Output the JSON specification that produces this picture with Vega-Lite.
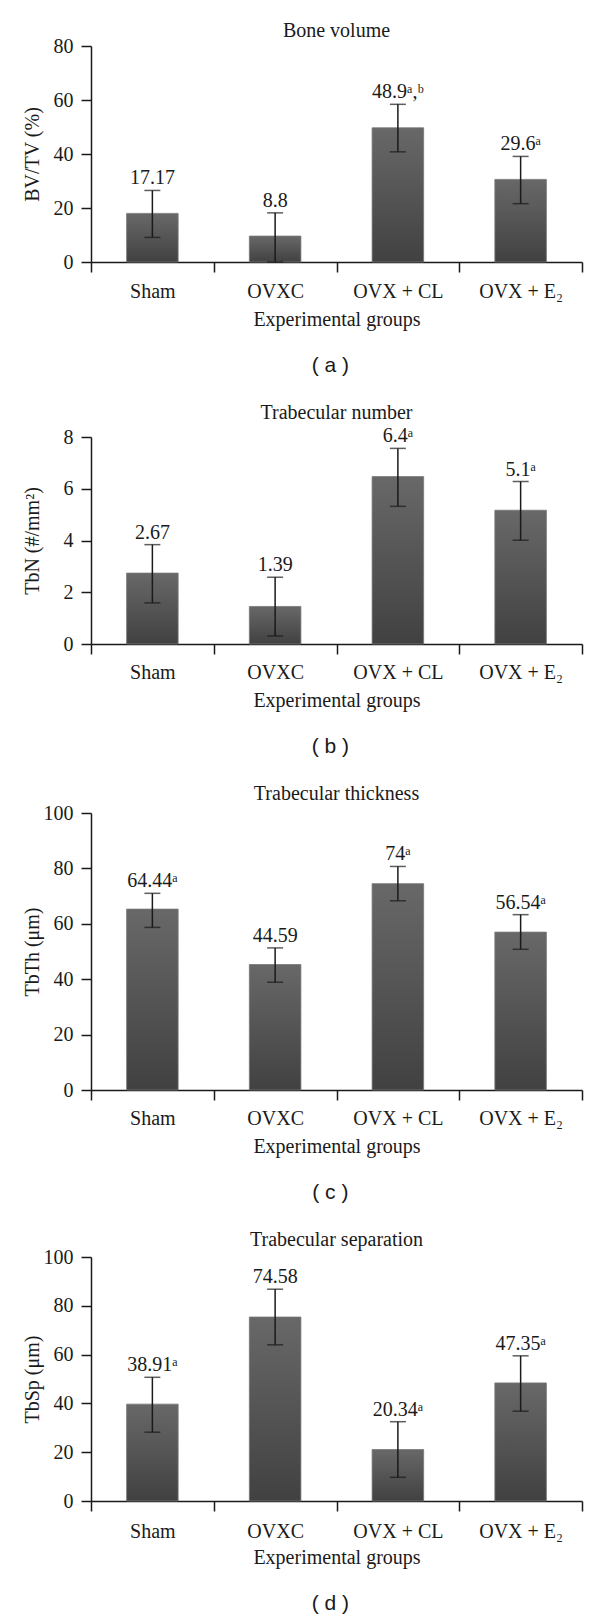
{
  "$schema": "https://vega.github.io/schema/vega-lite/v6.json",
  "background": "white",
  "padding": {"left": 22, "top": 21, "right": 10, "bottom": 5},
  "config": {
    "font": "Liberation Serif",
    "view": {"stroke": null},
    "axis": {
      "domainColor": "#1a1a1a", "domainWidth": 1.5,
      "tickColor": "#1a1a1a", "tickWidth": 1.5, "tickSize": 10,
      "labelFont": "Liberation Serif", "labelFontSize": 20, "labelColor": "#1a1a1a", "labelPadding": 8,
      "titleFont": "Liberation Serif", "titleFontSize": 20, "titleFontWeight": "normal", "titleColor": "#1a1a1a",
      "grid": false
    },
    "title": {"font": "Liberation Serif", "fontSize": 20, "fontWeight": "normal", "color": "#1a1a1a", "frame": "group"},
    "concat": {"spacing": 27}
  },
  "datasets": {
    "bv": [
      {"group": "Sham", "mean": 18.0, "lo": 9.1, "hi": 26.5, "label": "17.17"},
      {"group": "OVXC", "mean": 9.6, "lo": 0, "hi": 18.2, "label": "8.8"},
      {"group": "OVX + CL", "mean": 49.7, "lo": 40.8, "hi": 58.4, "label": "48.9ᵃ,ᵇ"},
      {"group": "OVX + E₂", "mean": 30.6, "lo": 21.6, "hi": 39.1, "label": "29.6ᵃ"}
    ],
    "tbn": [
      {"group": "Sham", "mean": 2.74, "lo": 1.59, "hi": 3.84, "label": "2.67"},
      {"group": "OVXC", "mean": 1.45, "lo": 0.31, "hi": 2.58, "label": "1.39"},
      {"group": "OVX + CL", "mean": 6.47, "lo": 5.32, "hi": 7.56, "label": "6.4ᵃ"},
      {"group": "OVX + E₂", "mean": 5.17, "lo": 4.01, "hi": 6.28, "label": "5.1ᵃ"}
    ],
    "tbth": [
      {"group": "Sham", "mean": 65.3, "lo": 58.7, "hi": 71.0, "label": "64.44ᵃ"},
      {"group": "OVXC", "mean": 45.3, "lo": 38.9, "hi": 51.3, "label": "44.59"},
      {"group": "OVX + CL", "mean": 74.5, "lo": 68.3, "hi": 80.7, "label": "74ᵃ"},
      {"group": "OVX + E₂", "mean": 57.0, "lo": 50.8, "hi": 63.3, "label": "56.54ᵃ"}
    ],
    "tbsp": [
      {"group": "Sham", "mean": 39.7, "lo": 28.2, "hi": 50.7, "label": "38.91ᵃ"},
      {"group": "OVXC", "mean": 75.4, "lo": 64.0, "hi": 86.8, "label": "74.58"},
      {"group": "OVX + CL", "mean": 21.1, "lo": 9.7, "hi": 32.5, "label": "20.34ᵃ"},
      {"group": "OVX + E₂", "mean": 48.4, "lo": 36.8, "hi": 59.5, "label": "47.35ᵃ"}
    ]
  },
  "vconcat": [
    {
      "title": {"text": "( a )", "orient": "bottom", "font": "Liberation Sans", "fontSize": 21, "offset": 26, "anchor": "middle", "frame": "bounds", "dx": 28},
      "vconcat": [{
        "width": 491, "height": 216,
        "title": {"text": "Bone volume", "offset": -5},
        "data": {"name": "bv"},
        "encoding": {
          "x": {"field": "group", "type": "nominal", "sort": null, "title": "Experimental groups",
                "scale": {"paddingInner": 0, "paddingOuter": 0},
                "axis": {"labelAngle": 0, "tickBand": "extent", "labelPadding": 9, "titlePadding": 8, "labelFont": "Liberation Serif", "titleFont": "Liberation Serif"}}
        },
        "layer": [
          {"mark": {"type": "bar", "width": {"band": 0.42}, "stroke": "#777777", "strokeWidth": 0.8,
                    "fill": {"gradient": "linear", "x1": 0, "y1": 0, "x2": 0, "y2": 1, "stops": [{"offset": 0, "color": "#686868"}, {"offset": 1, "color": "#414141"}]}},
           "encoding": {"y": {"field": "mean", "type": "quantitative", "title": "BV/TV (%)", "scale": {"domain": [0, 80]},
                              "axis": {"values": [0, 20, 40, 60, 80], "titlePadding": 11, "labelFont": "Liberation Serif", "titleFont": "Liberation Serif"}}}},
          {"mark": {"type": "rule", "strokeWidth": 1.5, "color": "#1a1a1a"},
           "encoding": {"y": {"field": "lo", "type": "quantitative", "title": "BV/TV (%)"}, "y2": {"field": "hi"}}},
          {"mark": {"type": "tick", "thickness": 1.5, "size": 16, "color": "#1a1a1a"},
           "encoding": {"y": {"field": "hi", "type": "quantitative", "title": "BV/TV (%)"}}},
          {"mark": {"type": "tick", "thickness": 1.5, "size": 16, "color": "#1a1a1a"},
           "encoding": {"y": {"field": "lo", "type": "quantitative", "title": "BV/TV (%)"}}},
          {"mark": {"type": "text", "baseline": "alphabetic", "dy": -6, "fontSize": 20, "font": "Liberation Serif", "color": "#1a1a1a"},
           "encoding": {"y": {"field": "hi", "type": "quantitative", "title": "BV/TV (%)"}, "text": {"field": "label"}}}
        ]
      }]
    },
    {
      "title": {"text": "( b )", "orient": "bottom", "font": "Liberation Sans", "fontSize": 21, "offset": 26, "anchor": "middle", "frame": "bounds", "dx": 28},
      "vconcat": [{
        "width": 491, "height": 207,
        "title": {"text": "Trabecular number", "offset": 3},
        "data": {"name": "tbn"},
        "encoding": {
          "x": {"field": "group", "type": "nominal", "sort": null, "title": "Experimental groups",
                "scale": {"paddingInner": 0, "paddingOuter": 0},
                "axis": {"labelAngle": 0, "tickBand": "extent", "labelPadding": 8, "titlePadding": 8, "labelFont": "Liberation Serif", "titleFont": "Liberation Serif"}}
        },
        "layer": [
          {"mark": {"type": "bar", "width": {"band": 0.42}, "stroke": "#777777", "strokeWidth": 0.8,
                    "fill": {"gradient": "linear", "x1": 0, "y1": 0, "x2": 0, "y2": 1, "stops": [{"offset": 0, "color": "#686868"}, {"offset": 1, "color": "#414141"}]}},
           "encoding": {"y": {"field": "mean", "type": "quantitative", "title": "TbN (#/mm²)", "scale": {"domain": [0, 8]},
                              "axis": {"values": [0, 2, 4, 6, 8], "titlePadding": 21, "labelFont": "Liberation Serif", "titleFont": "Liberation Serif"}}}},
          {"mark": {"type": "rule", "strokeWidth": 1.5, "color": "#1a1a1a"},
           "encoding": {"y": {"field": "lo", "type": "quantitative", "title": "TbN (#/mm²)"}, "y2": {"field": "hi"}}},
          {"mark": {"type": "tick", "thickness": 1.5, "size": 16, "color": "#1a1a1a"},
           "encoding": {"y": {"field": "hi", "type": "quantitative", "title": "TbN (#/mm²)"}}},
          {"mark": {"type": "tick", "thickness": 1.5, "size": 16, "color": "#1a1a1a"},
           "encoding": {"y": {"field": "lo", "type": "quantitative", "title": "TbN (#/mm²)"}}},
          {"mark": {"type": "text", "baseline": "alphabetic", "dy": -6, "fontSize": 20, "font": "Liberation Serif", "color": "#1a1a1a"},
           "encoding": {"y": {"field": "hi", "type": "quantitative", "title": "TbN (#/mm²)"}, "text": {"field": "label"}}}
        ]
      }]
    },
    {
      "title": {"text": "( c )", "orient": "bottom", "font": "Liberation Sans", "fontSize": 21, "offset": 26, "anchor": "middle", "frame": "bounds", "dx": 28},
      "vconcat": [{
        "width": 491, "height": 277,
        "title": {"text": "Trabecular thickness", "offset": -1},
        "data": {"name": "tbth"},
        "encoding": {
          "x": {"field": "group", "type": "nominal", "sort": null, "title": "Experimental groups",
                "scale": {"paddingInner": 0, "paddingOuter": 0},
                "axis": {"labelAngle": 0, "tickBand": "extent", "labelPadding": 8, "titlePadding": 8, "labelFont": "Liberation Serif", "titleFont": "Liberation Serif"}}
        },
        "layer": [
          {"mark": {"type": "bar", "width": {"band": 0.42}, "stroke": "#777777", "strokeWidth": 0.8,
                    "fill": {"gradient": "linear", "x1": 0, "y1": 0, "x2": 0, "y2": 1, "stops": [{"offset": 0, "color": "#686868"}, {"offset": 1, "color": "#414141"}]}},
           "encoding": {"y": {"field": "mean", "type": "quantitative", "title": "TbTh (μm)", "scale": {"domain": [0, 100]},
                              "axis": {"values": [0, 20, 40, 60, 80, 100], "titlePadding": 1, "labelFont": "Liberation Serif", "titleFont": "Liberation Serif"}}}},
          {"mark": {"type": "rule", "strokeWidth": 1.5, "color": "#1a1a1a"},
           "encoding": {"y": {"field": "lo", "type": "quantitative", "title": "TbTh (μm)"}, "y2": {"field": "hi"}}},
          {"mark": {"type": "tick", "thickness": 1.5, "size": 16, "color": "#1a1a1a"},
           "encoding": {"y": {"field": "hi", "type": "quantitative", "title": "TbTh (μm)"}}},
          {"mark": {"type": "tick", "thickness": 1.5, "size": 16, "color": "#1a1a1a"},
           "encoding": {"y": {"field": "lo", "type": "quantitative", "title": "TbTh (μm)"}}},
          {"mark": {"type": "text", "baseline": "alphabetic", "dy": -6, "fontSize": 20, "font": "Liberation Serif", "color": "#1a1a1a"},
           "encoding": {"y": {"field": "hi", "type": "quantitative", "title": "TbTh (μm)"}, "text": {"field": "label"}}}
        ]
      }]
    },
    {
      "title": {"text": "( d )", "orient": "bottom", "font": "Liberation Sans", "fontSize": 21, "offset": 26, "anchor": "middle", "frame": "bounds", "dx": 28},
      "vconcat": [{
        "width": 491, "height": 244,
        "title": {"text": "Trabecular separation", "offset": -3},
        "data": {"name": "tbsp"},
        "encoding": {
          "x": {"field": "group", "type": "nominal", "sort": null, "title": "Experimental groups",
                "scale": {"paddingInner": 0, "paddingOuter": 0},
                "axis": {"labelAngle": 0, "tickBand": "extent", "labelPadding": 10, "titlePadding": 6, "labelFont": "Liberation Serif", "titleFont": "Liberation Serif"}}
        },
        "layer": [
          {"mark": {"type": "bar", "width": {"band": 0.42}, "stroke": "#777777", "strokeWidth": 0.8,
                    "fill": {"gradient": "linear", "x1": 0, "y1": 0, "x2": 0, "y2": 1, "stops": [{"offset": 0, "color": "#686868"}, {"offset": 1, "color": "#414141"}]}},
           "encoding": {"y": {"field": "mean", "type": "quantitative", "title": "TbSp (μm)", "scale": {"domain": [0, 100]},
                              "axis": {"values": [0, 20, 40, 60, 80, 100], "titlePadding": 1, "labelFont": "Liberation Serif", "titleFont": "Liberation Serif"}}}},
          {"mark": {"type": "rule", "strokeWidth": 1.5, "color": "#1a1a1a"},
           "encoding": {"y": {"field": "lo", "type": "quantitative", "title": "TbSp (μm)"}, "y2": {"field": "hi"}}},
          {"mark": {"type": "tick", "thickness": 1.5, "size": 16, "color": "#1a1a1a"},
           "encoding": {"y": {"field": "hi", "type": "quantitative", "title": "TbSp (μm)"}}},
          {"mark": {"type": "tick", "thickness": 1.5, "size": 16, "color": "#1a1a1a"},
           "encoding": {"y": {"field": "lo", "type": "quantitative", "title": "TbSp (μm)"}}},
          {"mark": {"type": "text", "baseline": "alphabetic", "dy": -6, "fontSize": 20, "font": "Liberation Serif", "color": "#1a1a1a"},
           "encoding": {"y": {"field": "hi", "type": "quantitative", "title": "TbSp (μm)"}, "text": {"field": "label"}}}
        ]
      }]
    }
  ]
}
